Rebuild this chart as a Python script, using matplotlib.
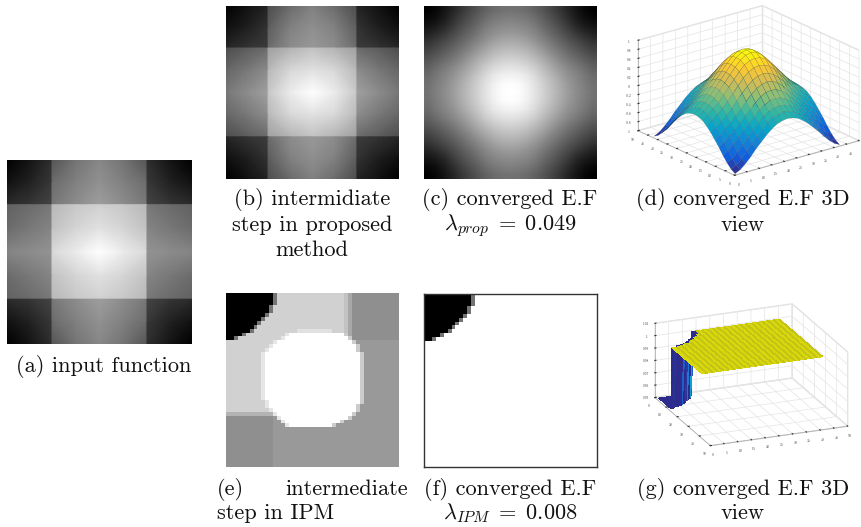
import numpy as np
import matplotlib
matplotlib.use('Agg')
import matplotlib.pyplot as plt
from matplotlib.colors import LinearSegmentedColormap, to_rgba
from mpl_toolkits.mplot3d import Axes3D  # noqa

W, H = 862, 527

# grey levels, top left quadrant, the rest is mirrored
quad_input = [
    [.00, .08, .18, .33, .45, .53],
    [.07, .13, .22, .42, .50, .57],
    [.17, .21, .27, .47, .55, .62],
    [.38, .42, .47, .72, .78, .82],
    [.42, .47, .52, .76, .83, .88],
    [.52, .55, .58, .85, .92, 1.0],
]
quad_step = [
    [.00, .07, .14, .30, .42, .50],
    [.06, .12, .20, .36, .50, .56],
    [.15, .20, .24, .42, .55, .60],
    [.30, .36, .42, .62, .70, .76],
    [.40, .47, .55, .72, .84, .88],
    [.47, .55, .63, .78, .92, 1.0],
]
block_edges = [0, .12, .243, .2435, .37, .5, .63, .7565, .757, .88, 1]

quad_converged = [
    [.00, .03, .08, .14, .21, .27, .33, .38, .42, .44, .45],
    [.03, .06, .11, .18, .25, .31, .37, .43, .47, .49, .50],
    [.08, .11, .16, .23, .30, .36, .42, .48, .52, .54, .55],
    [.14, .18, .23, .29, .35, .41, .47, .53, .57, .60, .61],
    [.21, .25, .30, .35, .41, .47, .53, .59, .64, .67, .68],
    [.27, .31, .36, .41, .47, .53, .60, .66, .71, .74, .75],
    [.33, .37, .42, .47, .53, .60, .67, .73, .78, .81, .82],
    [.38, .43, .48, .53, .59, .66, .73, .80, .85, .88, .89],
    [.42, .47, .52, .57, .64, .71, .78, .85, .91, .94, .95],
    [.44, .49, .54, .60, .67, .74, .81, .88, .94, .98, .99],
    [.45, .50, .55, .61, .68, .75, .82, .89, .95, .99, 1.0],
]

# IPM panels: 44 cells a side, black corner width per row, white disc per row
black_width = [12, 12, 12, 11, 11, 10, 9, 8, 7, 6, 4, 2]
disc_rows = list(range(10, 34))
disc_left = [16, 15, 13, 12, 11, 10, 10, 10, 10, 10, 10, 10, 10, 10, 10, 10, 10, 11, 11, 12, 13, 14, 15, 16]
disc_right = [30, 31, 32, 33, 33, 34, 34, 34, 34, 34, 34, 34, 34, 34, 34, 34, 34, 34, 33, 33, 32, 31, 29, 27]
grey_light, grey_dark, grey_mid = 0.82, 0.56, 0.60

z_ticks_d = ['-1', '-0.8', '-0.6', '-0.4', '-0.2', '0', '0.2', '0.4', '0.6', '0.8', '1']
z_ticks_g = ['0.95', '0.96', '0.97', '0.98', '0.99', '1', '1.01']
wall_shades = ['#2d2b8e', '#27358f', '#1f5fc4', '#2a2f90', '#12a0d0', '#2d2b8e', '#1b78d8', '#2a3aa0', '#2d2b8e', '#1f5fc4', '#2d2b8e', '#27358f']
plateau_shades = ['#d8d80c', '#c4c414']

parula_colors = ['#352a87', '#0f5cdd', '#1481d6', '#06a4ca', '#2eb7a4',
                 '#87bf77', '#d1bb59', '#fec832', '#f9fb0e']

plt.rcParams['font.family'] = ['cmr10', 'DejaVu Serif']
plt.rcParams['mathtext.fontset'] = 'cm'
plt.rcParams['axes.formatter.use_mathtext'] = True


def mirror(q):
    q = np.array(q, dtype=float)
    q = np.vstack([q, q[-2::-1]])
    return np.hstack([q, q[:, -2::-1]])


def px_axes(left, top, right, bottom, **kw):
    return fig.add_axes([left / W, 1 - bottom / H, (right - left) / W, (bottom - top) / H], **kw)


def grey_block(left, top, right, bottom, quad):
    ax = px_axes(left, top, right, bottom)
    ax.pcolormesh(block_edges, block_edges, mirror(quad), shading='gouraud', cmap='gray', vmin=0, vmax=1)
    ax.set_ylim(1, 0)
    ax.axis('off')


def caption(x, y, s, ha='center'):
    fig.text(x / W, 1 - y / H, s, ha=ha, va='baseline', fontsize=16.1, color='#111111')


def style_3d(ax, zticks, zlabels):
    for axis in (ax.xaxis, ax.yaxis, ax.zaxis):
        axis.set_pane_color((1, 1, 1, 1))
        axis.pane.set_edgecolor('#e4e4e4')
        axis.line.set_color('#b0b0b0')
        axis.line.set_linewidth(0.6)
        axis._axinfo['grid']['color'] = '#e4e4e4'
        axis._axinfo['grid']['linewidth'] = 0.5
        axis._axinfo['tick']['inward_factor'] = 0.0
        axis._axinfo['tick']['outward_factor'] = 0.1
    ax.set_zticks(zticks)
    ax.set_zticklabels(zlabels)
    ax.tick_params(labelsize=2.5, pad=-4, colors='#333333', width=0.3)
    ax.patch.set_alpha(0)


fig = plt.figure(figsize=(W / 100, H / 100), dpi=100)

# grey images
grey_block(7, 160, 192, 344, quad_input)
grey_block(226, 6, 399, 179, quad_step)

converged = mirror(quad_converged)
ax_c = px_axes(424, 6, 597, 179)
ax_c.imshow(converged, cmap='gray', vmin=0, vmax=1, interpolation='bilinear', aspect='auto')
ax_c.axis('off')

# IPM intermediate step
n = 44
step_ipm = np.full((n, n), grey_mid)
step_ipm[:30, :30] = grey_light
step_ipm[:30, 30], step_ipm[:30, 31] = 0.76, 0.66
step_ipm[30, :30] = 0.7
step_ipm[:12, 32:] = grey_dark
step_ipm[31:, :12] = grey_dark
step_ipm[9, 18:27] = 0.88
for r, w in enumerate(black_width):
    step_ipm[r, :w] = 0
    step_ipm[r, w] = 0.45
for r, a, b in zip(disc_rows, disc_left, disc_right):
    step_ipm[r, a - 1] = 0.9
    step_ipm[r, b] = 0.8
    step_ipm[r, a:b] = 1
ax_e = px_axes(226, 293, 399, 467)
ax_e.imshow(step_ipm, cmap='gray', vmin=0, vmax=1, interpolation='nearest', aspect='auto')
ax_e.axis('off')

# IPM converged
final_ipm = np.ones((n, n))
for r, w in enumerate(black_width):
    final_ipm[r, :w] = 0
    final_ipm[r, w] = 0.45
ax_f = px_axes(424, 294, 597, 467)
ax_f.imshow(final_ipm, cmap='gray', vmin=0, vmax=1, interpolation='nearest', aspect='auto')
ax_f.set_xticks([])
ax_f.set_yticks([])
for s in ax_f.spines.values():
    s.set_linewidth(1.0)
    s.set_color('#333333')

# 3D view of the proposed method, the axes stay square or the surface gets cut
parula = LinearSegmentedColormap.from_list('parula_like', parula_colors)
ax_d = px_axes(615, -36, 875, 224, projection='3d', proj_type='ortho')
xs = np.arange(converged.shape[1]) * 2.1 + 1
ys = np.arange(converged.shape[0]) * 2.1 + 1
X, Y = np.meshgrid(xs, ys)
ax_d.plot_surface(X, Y, converged * 2 - 1, cmap=parula, rstride=1, cstride=1, shade=False,
                  linewidth=0.2, edgecolor='#10102060', vmin=-1, vmax=1)
ax_d.set_xlim(0, 50)
ax_d.set_ylim(0, 50)
ax_d.set_zlim(-1, 1)
ax_d.set_xticks(range(0, 51, 5))
ax_d.set_yticks(range(0, 51, 5))
style_3d(ax_d, np.arange(-1, 1.01, 0.2), z_ticks_d)
ax_d.view_init(elev=21, azim=-127.8)
ax_d.set_box_aspect((1, 1, 0.615), zoom=0.907)

# 3D view of IPM
ax_g = px_axes(628, 258, 868, 498, projection='3d', proj_type='ortho')
xg = np.arange(1, 46)
yg = np.arange(1, 41)
Xg, Yg = np.meshgrid(xg, yg)
Zg = np.ones(Xg.shape)
colors_g = np.empty(Xg.shape + (4,))
for c in range(len(xg)):
    colors_g[:, c] = to_rgba(plateau_shades[c % 2])
for r, w in enumerate(black_width):
    Zg[r, :w] = 0.95
    colors_g[r, :w + 1] = to_rgba('#2d2b8e')
    colors_g[r, max(w - 1, 0)] = to_rgba(wall_shades[r])
ax_g.plot_surface(Xg, Yg, Zg, facecolors=colors_g, rstride=1, cstride=1, shade=False,
                  linewidth=0, antialiased=False)
ax_g.set_xlim(0, 50)
ax_g.set_ylim(50, 0)
ax_g.set_zlim(0.95, 1.01)
ax_g.set_xticks(range(0, 51, 5))
ax_g.set_yticks(range(0, 51, 10))
style_3d(ax_g, np.linspace(0.95, 1.01, 7), z_ticks_g)
ax_g.view_init(elev=20.5, azim=-112)
ax_g.set_box_aspect((1, 1, 0.535), zoom=0.906)

# captions
caption(104, 372, '(a) input function')
caption(312, 205, '(b) intermidiate')
caption(312, 231, 'step in proposed')
caption(312, 256, 'method')
caption(510, 205, '(c) converged E.F')
caption(510, 231, r'$\lambda_{prop}\;=\;0.049$')
caption(743, 205, '(d) converged E.F 3D')
caption(743, 231, 'view')
caption(217, 495, '(e)', ha='left')
caption(408, 495, 'intermediate', ha='right')
caption(217, 519, 'step in IPM', ha='left')
caption(510, 495, '(f) converged E.F')
caption(510, 519, r'$\lambda_{IPM}\;=\;0.008$')
caption(743, 495, '(g) converged E.F 3D')
caption(743, 519, 'view')

fig.savefig('out.png', dpi=100)
